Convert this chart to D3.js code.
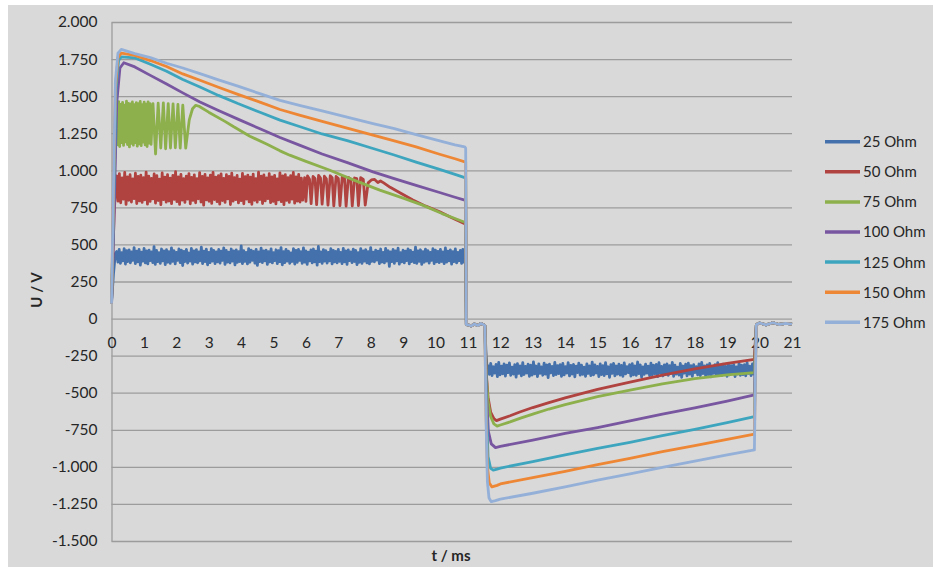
<!DOCTYPE html>
<html>
<head>
<meta charset="utf-8">
<script src="https://cdn.jsdelivr.net/npm/d3@7"></script>
<style>
  body { margin: 0; background: #fff; }
  text { font-family: Lato, "Open Sans", sans-serif; fill: #262626; }
</style>
</head>
<body>
<svg id="chart" width="934" height="578"></svg>
<script>
// values (t in ms, U in V)
var names = ["25 Ohm", "50 Ohm", "75 Ohm", "100 Ohm", "125 Ohm", "150 Ohm", "175 Ohm"];
var colors = ["#4471ab", "#b0423f", "#8db04c", "#7856a0", "#3ea5bf", "#ee8735", "#94b0d8"];
var xTicks = d3.range(0, 22);
var yTicks = d3.range(-1500, 2001, 250);

// shared flat parts between the pulses
var gap = [[11.0,-42],[11.1,-50],[11.2,-36],[11.3,-47],[11.4,-33],[11.5,-44]];
var tail = [[19.9,-40],[20.0,-30],[20.2,-42],[20.4,-28],[20.6,-40],[20.8,-33],[21,-38]];

// noisy bands, sampled evenly between the given times
var noise25Pos = [
  452,381,467,373,445,390,471,368,458,385,463,376,449,392,478,370,455,383,466,361,
  448,387,473,375,457,369,462,391,450,378,485,366,459,384,444,373,469,389,456,364,
  464,380,451,372,476,386,458,369,447,393,470,377,461,358,453,385,467,374,442,388,
  474,367,457,382,465,376,449,390,481,371,454,384,468,363,446,378,472,387,459,370,
  450,383,466,374,455,392,477,366,460,381,448,375,469,388,457,362,463,379,452,385,
  490,371,458,386,447,369,471,380,462,393,453,374,466,359,449,384,475,377,456,389,
  461,366,451,382,470,375,445,391,464,370,458,384,479,363,452,378,467,387,454,372,
  443,385,472,368,459,379,466,392,451,373,476,381,457,365,448,389,463,376,469,383,
  455,361,486,384,449,372,465,388,458,374,447,390,471,369,460,382,453,376,467,386,
  446,371,474,383,456,366,463,391,450,378,468,385,459,364,444,380,472,373,457,388,
  465,375,452,369,478,386,448,382,461,394,455,370,469,381,447,376,473,387,458,352,
  450,384,466,373,457,389,475,367,445,382,462,376,454,391,470,369,459,385,448,378,
  482,372,456,386,464,365,451,380,468,388,458,374,447,392,472,371,461,383,453,377,
  467,385,449,370,476,381,455,389,463,368,452,384,470,375,446,390,460,373,466,380];
var noise25Neg = [
  -318,-376,-302,-384,-325,-368,-309,-391,-296,-379,-321,-372,-306,-388,-314,-365,-299,-383,-327,-374,
  -311,-395,-304,-370,-319,-386,-297,-377,-323,-367,-308,-389,-315,-381,-292,-373,-320,-392,-305,-369,
  -326,-382,-301,-375,-313,-398,-307,-366,-322,-384,-295,-378,-317,-371,-310,-390,-303,-380,-324,-368,
  -298,-387,-316,-374,-309,-393,-321,-364,-300,-382,-314,-376,-327,-389,-305,-370,-319,-385,-294,-379,
  -312,-367,-323,-391,-306,-378,-318,-384,-297,-372,-325,-396,-310,-369,-302,-386,-320,-375,-308,-381,
  -316,-390,-299,-373,-324,-365,-311,-388,-304,-379,-319,-383,-293,-371,-313,-394,-326,-376,-307,-368,
  -321,-385,-301,-380,-315,-372,-309,-392,-298,-366,-323,-387,-312,-377,-305,-383,-318,-370,-296,-389,
  -314,-374,-327,-381,-303,-397,-320,-368,-308,-386,-300,-375,-317,-390,-311,-364,-324,-379,-306,-384,
  -295,-371,-319,-388,-313,-377,-302,-393,-325,-369,-310,-382,-297,-376,-316,-385,-307,-372,-322,-389,
  -304,-380,-318,-367,-309,-391,-326,-374,-300,-383,-315,-378,-311,-387,-298,-370,-321,-385,-306,-375];
var noise50 = [
  962,792,978,781,948,805,985,770,955,798,970,786,942,809,980,776,958,794,967,783,
  950,801,988,772,960,790,945,807,975,779,964,796,940,768,982,802,953,785,971,793,
  947,775,966,804,990,788,956,770,973,799,944,783,961,806,978,774,952,797,969,781,
  943,808,984,786,959,765,972,800,949,791,967,777,986,803,954,789,963,772,976,796,
  946,784,970,807,958,769,981,792,951,802,965,780,941,795,979,774,957,806,968,787,
  953,771,974,798,944,785,987,803,960,776,969,794,948,809,977,782,955,790,966,773,
  942,801,983,789,962,768,971,797,950,784,964,805,985,778,956,792,973,786,947,799];
var spikes50 = [[5.96,950],[6.0,790],[6.05,962],[6.11,940],[6.16,775],[6.22,958],[6.28,945],[6.33,768],
  [6.39,965],[6.45,948],[6.5,772],[6.57,960],[6.63,942],[6.68,765],[6.75,963],[6.81,950],[6.86,760],
  [6.93,958],[7.0,944],[7.05,762],[7.12,955],[7.19,946],[7.24,758],[7.31,952],[7.38,940],[7.43,760],
  [7.5,948],[7.57,944],[7.62,762],[7.69,950],[7.77,938],[7.83,765]];
var noise75 = [1452,1172,1463,1160,1445,1186,1458,1168,1440,1192,1466,1174,1451,1158,1447,1181,1461,1169,
  1443,1187,1456,1163,1449,1178,1464,1166,1442,1190,1459,1171,1446,1160,1462,1183,1450,1175];
var spikes75 = [[1.28,1450],[1.36,1110],[1.44,1452],[1.52,1150],[1.6,1455],[1.67,1145],[1.75,1450],
  [1.82,1150],[1.9,1448],[1.97,1152],[2.05,1445],[2.12,1150],[2.2,1440],[2.29,1150]];

// smooth parts
var pos50 = [[7.92,915],[8.02,935],[8.12,938],[8.22,918],[8.3,928],[8.4,915],[8.6,885],[8.9,848],[9.3,800],
  [9.7,758],[10.13,720],[10.5,680],[10.9,640],[10.93,638],[10.95,-40]];
var pos75 = [[2.4,1340],[2.5,1415],[2.6,1438],[2.7,1432],[3.0,1392],[3.5,1330],[3.76,1295],[4.27,1230],
  [4.8,1175],[5.2,1131],[5.5,1102],[6.0,1060],[6.74,1000],[7.5,932],[8.28,866],[9.0,812],[9.6,765],
  [10.2,708],[10.6,675],[10.9,650],[10.93,648],[10.95,-40]];
var pos100 = [[0,100],[0.08,700],[0.16,1450],[0.26,1690],[0.38,1725],[0.72,1697],[1.2,1640],[1.7,1582],
  [2.2,1522],[2.73,1461],[3.3,1403],[3.9,1345],[4.6,1278],[5.2,1221],[5.8,1170],[6.5,1110],[7.3,1050],
  [8.07,989],[8.7,946],[9.4,898],[10.1,852],[10.6,818],[10.9,799],[10.93,798],[10.95,-40]];
var pos125 = [[0,100],[0.07,800],[0.14,1550],[0.22,1740],[0.3,1765],[0.72,1758],[1.2,1715],[1.7,1668],
  [2.2,1612],[2.73,1562],[3.3,1505],[3.9,1450],[4.6,1390],[5.2,1338],[5.8,1295],[6.5,1245],[7.3,1198],
  [8.07,1147],[8.7,1105],[9.4,1055],[10.1,1008],[10.6,972],[10.9,951],[10.93,950],[10.95,-40]];
var pos150 = [[0,100],[0.06,850],[0.12,1550],[0.2,1760],[0.3,1790],[0.72,1775],[1.2,1740],[1.7,1700],
  [2.2,1650],[2.73,1607],[3.3,1560],[3.9,1512],[4.6,1458],[5.2,1410],[5.8,1372],[6.5,1330],[7.3,1283],
  [8.07,1237],[8.7,1200],[9.4,1158],[10.1,1110],[10.6,1078],[10.9,1057],[10.93,1055],[10.95,-40]];
var pos175 = [[0,100],[0.06,900],[0.12,1600],[0.2,1790],[0.3,1815],[0.45,1805],[0.72,1787],[1.2,1760],
  [1.7,1722],[2.2,1690],[2.73,1652],[3.3,1610],[3.9,1568],[4.6,1515],[5.2,1472],[5.8,1438],[6.5,1400],
  [7.3,1357],[8.07,1315],[8.7,1282],[9.4,1240],[10.1,1200],[10.6,1172],[10.9,1158],[10.93,1150],[10.95,-40]];

var neg50 = [[11.52,-45],[11.57,-380],[11.62,-530],[11.7,-630],[11.8,-675],[11.88,-688],[12.0,-678],
  [12.3,-655],[12.6,-630],[13,-600],[13.5,-567],[14,-535],[15,-477],[16,-428],[17,-381],[18,-340],
  [19,-302],[19.84,-275],[19.87,-150]];
var neg75 = [[11.52,-45],[11.57,-400],[11.62,-560],[11.7,-660],[11.8,-710],[11.9,-725],[12.0,-718],
  [12.3,-697],[12.6,-673],[13,-644],[13.5,-610],[14,-580],[15,-527],[16,-483],[17,-441],[18,-405],
  [19,-380],[19.84,-365],[19.87,-200]];
var neg100 = [[11.52,-45],[11.57,-500],[11.63,-760],[11.72,-845],[11.85,-870],[12,-862],[13,-820],
  [14,-775],[15,-735],[16,-690],[17,-645],[18,-603],[19,-557],[19.84,-515],[19.87,-250]];
var neg125 = [[11.52,-45],[11.57,-600],[11.62,-930],[11.7,-1010],[11.78,-1022],[11.9,-1015],[12,-1008],
  [13,-965],[14,-920],[15,-875],[16,-835],[17,-790],[18,-747],[19,-702],[19.84,-662],[19.87,-300]];
var neg150 = [[11.52,-45],[11.56,-650],[11.6,-1000],[11.66,-1110],[11.74,-1135],[11.9,-1125],[12,-1115],
  [13,-1072],[14,-1030],[15,-985],[16,-942],[17,-898],[18,-857],[19,-815],[19.84,-780],[19.87,-350]];
var neg175 = [[11.52,-45],[11.56,-700],[11.6,-1100],[11.65,-1210],[11.72,-1235],[11.85,-1228],[12.0,-1218],
  [13,-1178],[14,-1135],[15,-1090],[16,-1048],[17,-1003],[18,-962],[19,-920],[19.84,-886],[19.87,-400]];

function even(t0, t1, vals) {
  return vals.map(function(v, i) { return [t0 + (t1 - t0) * i / (vals.length - 1), v]; });
}

var series = [
  [].concat([[0,100],[0.06,300],[0.12,440]], even(0.16, 10.88, noise25Pos), [[10.93,425],[10.95,-40]],
    gap, [[11.52,-45],[11.56,-250],[11.59,-330]], even(11.62, 19.82, noise25Neg), [[19.86,-200]], tail),
  [].concat([[0,100],[0.08,700],[0.13,900]], even(0.16, 5.9, noise50), spikes50, pos50, gap, neg50, tail),
  [].concat([[0,100],[0.08,900],[0.13,1300]], even(0.16, 1.22, noise75), spikes75, pos75, gap, neg75, tail),
  [].concat(pos100, gap, neg100, tail),
  [].concat(pos125, gap, neg125, tail),
  [].concat(pos150, gap, neg150, tail),
  [].concat(pos175, gap, neg175, tail)
];

var svg = d3.select("#chart");
var x = d3.scaleLinear().domain([0, 21]).range([111.5, 792]);
var y = d3.scaleLinear().domain([-1500, 2000]).range([541, 22]);

var de = d3.formatLocale({decimal: ",", thousands: ".", grouping: [3], currency: ["", " €"], minus: "-"});
var fmt = de.format(",d");

svg.append("rect")
  .attr("x", 8).attr("y", 5)
  .attr("width", 925).attr("height", 562)
  .attr("fill", "#d9d9d9");

// y axis with grid
var yAxis = svg.append("g")
  .attr("transform", "translate(" + x(0) + ",0)")
  .call(d3.axisLeft(y).tickValues(yTicks).tickFormat(fmt)
    .tickSize(-(x(21) - x(0))).tickSizeOuter(0).tickPadding(14));
yAxis.selectAll(".tick line").attr("stroke", "#9c9c9c").attr("stroke-width", 1.3);
yAxis.select(".domain").attr("stroke", "#9c9c9c").attr("stroke-width", 1.3);
yAxis.selectAll("text").attr("font-size", 15.5).attr("fill", "#262626");

// x axis labels sit under the zero line
var xAxis = svg.append("g")
  .attr("transform", "translate(0," + y(0) + ")")
  .call(d3.axisBottom(x).tickValues(xTicks).tickSize(0).tickPadding(18));
xAxis.select(".domain").remove();
xAxis.selectAll("text").attr("font-size", 15.5).attr("fill", "#262626");

var line = d3.line()
  .x(function(d) { return x(d[0]); })
  .y(function(d) { return y(d[1]); });

svg.append("g").selectAll("path")
  .data(series)
  .enter().append("path")
  .attr("d", line)
  .attr("fill", "none")
  .attr("stroke", function(d, i) { return colors[i]; })
  .attr("stroke-width", 2.8)
  .attr("stroke-linejoin", "round");

// axis titles
svg.append("text")
  .attr("x", 451).attr("y", 561)
  .attr("text-anchor", "middle")
  .attr("font-size", 15).attr("font-weight", "bold")
  .text("t / ms");
svg.append("text")
  .attr("transform", "translate(42,290) rotate(-90)")
  .attr("text-anchor", "middle")
  .attr("font-size", 15).attr("font-weight", "bold")
  .text("U / V");

// legend
var legend = svg.append("g").selectAll("g")
  .data(names)
  .enter().append("g")
  .attr("transform", function(d, i) { return "translate(825," + (141.7 + i * 30.1) + ")"; });
legend.append("line")
  .attr("x1", 0).attr("x2", 35)
  .attr("stroke", function(d, i) { return colors[i]; })
  .attr("stroke-width", 3.5);
legend.append("text")
  .attr("x", 38).attr("dy", "0.36em")
  .attr("font-size", 15)
  .text(function(d) { return d; });
</script>
</body>
</html>
